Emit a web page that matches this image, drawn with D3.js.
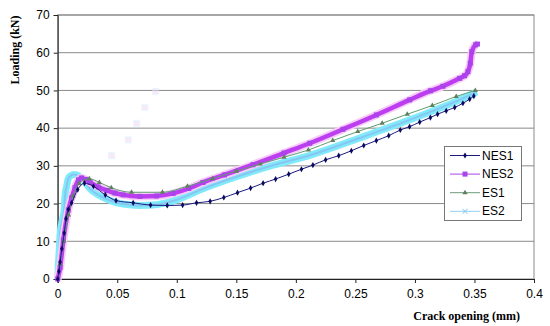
<!DOCTYPE html>
<html>
<head>
<meta charset="utf-8">
<script src="https://cdn.jsdelivr.net/npm/d3@7"></script>
<style>
body { margin: 0; background: #fff; }
svg { display: block; }
</style>
</head>
<body>
<svg id="chart" width="550" height="326"></svg>
<script>
// crack opening (mm) vs loading (kN)
var nes1 = [[0,0],[0.001,2],[0.002,4.5],[0.0035,8],[0.0055,12.2],[0.007,16],[0.009,18.5],[0.0117,20.2],
  [0.0168,23.7],[0.0225,25.4],[0.03,24.6],[0.04,22.3],[0.049,20.8],[0.0634,20.2],[0.078,19.6],[0.092,19.5],
  [0.1049,19.6],[0.1166,20.2],[0.128,20.6],[0.1395,21.6],[0.151,22.9],[0.162,24.1],[0.1725,25.4],[0.183,26.5],
  [0.194,27.8],[0.2047,29.1],[0.2143,30.2],[0.225,31.6],[0.236,32.7],[0.2466,34],[0.257,35.4],[0.2676,36.7],
  [0.278,38],[0.2877,39.5],[0.2955,40.4],[0.304,41.6],[0.313,42.8],[0.319,43.7],[0.3263,44.6],[0.3334,45.5],
  [0.3403,46.6],[0.346,47.7],[0.3495,48.5]];
var nes2 = [[0,0],[0.002,3],[0.0047,10.3],[0.0089,18.3],[0.0117,21.5],[0.0145,24.2],[0.0175,26.3],[0.02,26.8],
  [0.0235,26.4],[0.0272,25.6],[0.034,24.4],[0.041,23.5],[0.048,22.8],[0.055,22.3],[0.069,21.9],[0.083,22],
  [0.097,22.7],[0.11,24],[0.122,25.6],[0.14,27.6],[0.164,30.3],[0.19,33.4],[0.2117,36],[0.2396,39.7],
  [0.2676,43.5],[0.2956,47.5],[0.313,49.9],[0.3235,51.1],[0.3375,53.2],[0.3417,53.9],[0.3445,55],
  [0.3465,57.2],[0.3478,60.3],[0.351,62.1],[0.3525,62.3]];
var es1 = [[0,0],[0.002,4],[0.005,10],[0.009,17],[0.013,22],[0.018,25.3],[0.0265,26.6],[0.035,25.6],
  [0.045,24.2],[0.062,23],[0.088,23],[0.109,24.6],[0.13,26.6],[0.15,28.6],[0.17,30.5],[0.19,32.3],
  [0.2105,34.2],[0.231,36.7],[0.252,39.1],[0.2725,41.3],[0.2936,43.7],[0.3146,46],[0.3347,48.4],[0.3507,50]];
var es2 = [[0,0],[0.0003,1.5],[0.0005,3.5],[0.001,6],[0.002,11.8],[0.0035,15],[0.0055,18.5],[0.0061,22],
  [0.0075,24.5],[0.0089,26.6],[0.011,27.4],[0.0135,27.7],[0.016,27.6],[0.019,27],[0.0225,25.8],[0.0272,23.9],
  [0.034,22.3],[0.041,21.2],[0.05,20.2],[0.06,19.7],[0.069,19.5],[0.08,19.6],[0.09,20.1],[0.1,21],
  [0.122,23.9],[0.15,27.1],[0.178,29.9],[0.2117,32.8],[0.2537,37.4],[0.2956,42.2],[0.3375,47.5],[0.352,49.6]];
// a few loose, faint points above the curves
var strayPts = [[0.0453,32.7],[0.0592,36.9],[0.0663,41.3],[0.0732,45.5],[0.0822,49.7]];

var xTicks = [0,0.05,0.1,0.15,0.2,0.25,0.3,0.35,0.4];
var yTicks = [0,10,20,30,40,50,60,70];
var seriesNames = ["NES1","NES2","ES1","ES2"];

var svg = d3.select("#chart");
var mLeft = 57.7, mRight = 534, mTop = 15, mBottom = 279;

var x = d3.scaleLinear().domain([0,0.4]).range([mLeft,mRight]);
var y = d3.scaleLinear().domain([0,70]).range([mBottom,mTop]);

// gridlines
svg.append("g").selectAll("line").data(yTicks.slice(1)).enter().append("line")
  .attr("x1", mLeft).attr("x2", mRight)
  .attr("y1", function(d){ return y(d); }).attr("y2", function(d){ return y(d); })
  .attr("stroke", "#8a8a8a").attr("stroke-width", 1);

// plot frame
svg.append("rect").attr("x", mLeft).attr("y", mTop)
  .attr("width", mRight-mLeft).attr("height", mBottom-mTop)
  .attr("fill", "none").attr("stroke", "#8a8a8a").attr("stroke-width", 1);

var yAxis = d3.axisLeft(y).tickValues(yTicks).tickSize(4).tickPadding(4).tickFormat(d3.format("d"));
var xAxis = d3.axisBottom(x).tickValues(xTicks).tickSize(4).tickPadding(6).tickFormat(function(d){ return d === 0 ? "0" : String(d); });

var gy = svg.append("g").attr("transform", "translate(" + mLeft + ",0)").call(yAxis);
var gx = svg.append("g").attr("transform", "translate(0," + mBottom + ")").call(xAxis);
[gx, gy].forEach(function(g){
  g.select(".domain").attr("stroke", "#222");
  g.selectAll(".tick line").attr("stroke", "#222");
  g.selectAll(".tick text").attr("fill", "#000")
    .style("font-family", "'Liberation Sans', Arial, sans-serif").style("font-size", "12px");
});

var line = d3.line().x(function(d){ return x(d[0]); }).y(function(d){ return y(d[1]); })
  .curve(d3.curveMonotoneX);

var plot = svg.append("g");

// faint stray points
plot.selectAll("rect.stray").data(strayPts).enter().append("rect")
  .attr("class", "stray")
  .attr("x", function(d){ return x(d[0]) - 3; }).attr("y", function(d){ return y(d[1]) - 3; })
  .attr("width", 6).attr("height", 6)
  .attr("fill", "#f6d6f6").attr("stroke", "#d2f4fa").attr("stroke-width", 1).attr("opacity", 0.55);

// ES2: dense cross markers shown as a wide light cyan band
plot.append("path").datum(es2).attr("d", line)
  .attr("fill", "none").attr("stroke", "#80eafa").attr("stroke-width", 7).attr("stroke-linejoin", "round");
plot.append("path").datum(es2).attr("d", line)
  .attr("fill", "none").attr("stroke", "#86c6f2").attr("stroke-width", 2);

// NES2: dense square markers shown as a wide magenta band
plot.append("path").datum(nes2).attr("d", line)
  .attr("fill", "none").attr("stroke", "#f6ccf8").attr("stroke-width", 8).attr("stroke-linejoin", "round");
plot.append("path").datum(nes2).attr("d", line)
  .attr("fill", "none").attr("stroke", "#bd3ef0").attr("stroke-width", 4.5).attr("stroke-linejoin", "round");
plot.selectAll("rect.n2").data(nes2).enter().append("rect")
  .attr("class", "n2")
  .attr("x", function(d){ return x(d[0]) - 2.5; }).attr("y", function(d){ return y(d[1]) - 2.5; })
  .attr("width", 5).attr("height", 5).attr("fill", "#aa44ea");

// ES1: thin green line with triangles
plot.append("path").datum(es1).attr("d", line)
  .attr("fill", "none").attr("stroke", "#5c9e6e").attr("stroke-width", 1);
var tri = d3.symbol().type(d3.symbolTriangle).size(12);
plot.selectAll("path.e1").data(es1.slice(1)).enter().append("path")
  .attr("class", "e1").attr("d", tri)
  .attr("transform", function(d){ return "translate(" + x(d[0]) + "," + y(d[1]) + ")"; })
  .attr("fill", "#5f7f5f");

// NES1: navy line with diamonds
plot.append("path").datum(nes1).attr("d", line)
  .attr("fill", "none").attr("stroke", "#1a1a80").attr("stroke-width", 1);
var dia = d3.symbol().type(d3.symbolDiamond).size(11);
plot.selectAll("path.n1").data(nes1).enter().append("path")
  .attr("class", "n1").attr("d", dia)
  .attr("transform", function(d){ return "translate(" + x(d[0]) + "," + y(d[1]) + ")"; })
  .attr("fill", "#0a0a60");

// axis titles
svg.append("text").attr("transform", "translate(19,50) rotate(-90)")
  .attr("text-anchor", "middle")
  .style("font-family", "'Liberation Serif', 'Times New Roman', serif").style("font-weight", "bold")
  .style("font-size", "12px").text("Loading (kN)");
svg.append("text").attr("x", 520).attr("y", 320).attr("text-anchor", "end")
  .style("font-family", "'Liberation Serif', 'Times New Roman', serif").style("font-weight", "bold")
  .style("font-size", "12px").text("Crack opening (mm)");

// legend
var lg = svg.append("g");
lg.append("rect").attr("x", 444.5).attr("y", 146.5).attr("width", 77).attr("height", 74)
  .attr("fill", "#fff").attr("stroke", "#777");
var legendStyle = [
  {stroke: "#1a1a80", mark: "dia", fill: "#0a0a60"},
  {stroke: "#aa44ea", mark: "sq", fill: "#aa44ea"},
  {stroke: "#6e9a7a", mark: "tri", fill: "#5f7f5f"},
  {stroke: "#8fd0f4", mark: "x", fill: "#7fc8f0"}
];
seriesNames.forEach(function(name, i){
  var yy = 155.5 + i * 18.6, st = legendStyle[i];
  lg.append("line").attr("x1", 450).attr("x2", 480).attr("y1", yy).attr("y2", yy)
    .attr("stroke", st.stroke).attr("stroke-width", 1);
  if (st.mark === "dia") {
    lg.append("path").attr("d", dia).attr("transform", "translate(465," + yy + ")").attr("fill", st.fill);
  } else if (st.mark === "sq") {
    lg.append("rect").attr("x", 462.5).attr("y", yy - 2.5).attr("width", 5).attr("height", 5).attr("fill", st.fill);
  } else if (st.mark === "tri") {
    lg.append("path").attr("d", tri).attr("transform", "translate(465," + yy + ")").attr("fill", st.fill);
  } else {
    lg.append("path").attr("d", "M-2.5,-2.5L2.5,2.5M-2.5,2.5L2.5,-2.5")
      .attr("transform", "translate(465," + yy + ")").attr("stroke", st.fill).attr("stroke-width", 1);
  }
  lg.append("text").attr("x", 482).attr("y", yy + 4)
    .style("font-family", "'Liberation Sans', Arial, sans-serif").style("font-size", "12px")
    .attr("fill", "#000").text(name);
});
</script>
</body>
</html>
